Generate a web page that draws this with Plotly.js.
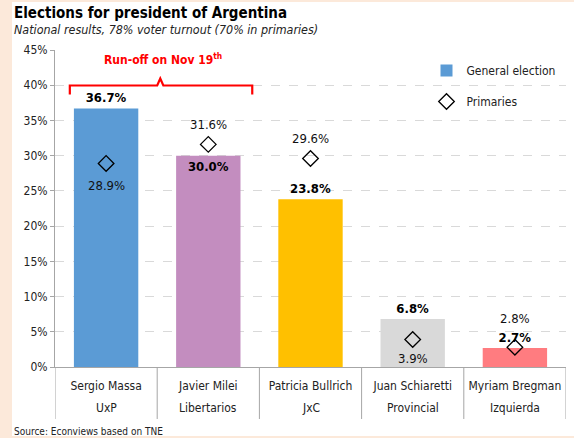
<!DOCTYPE html>
<html><head><meta charset="utf-8">
<script src="https://cdn.plot.ly/plotly-3.0.1.min.js"></script>
<style>
html,body{margin:0;padding:0;background:#FCE9DA;width:574px;height:438px;overflow:hidden;}
#chart{position:absolute;left:12px;top:2px;width:562px;height:434px;background:#fff;}
</style></head>
<body><div id="chart"></div>
<script>
const candidates = ["Sergio Massa","Javier Milei","Patricia Bullrich","Juan Schiaretti","Myriam Bregman"];
const parties = ["UxP","Libertarios","JxC","Provincial","Izquierda"];
const generalElection = [36.7, 30.0, 23.8, 6.8, 2.7];
const primaries = [28.9, 31.6, 29.6, 3.9, 2.8];
const barColors = ["#5B9BD5","#C38DBF","#FFC000","#D9D9D9","#FF7C80"];
const barTextPos = ["outside","inside","outside","outside","outside"];
const primLabelShift = [-22, 20, 20, -19, 29];

const FONT = "'DejaVu Sans Condensed', 'DejaVu Sans', sans-serif";

const traces = [
  {type:"bar", name:"General election", x:candidates, y:generalElection,
   marker:{color:barColors}, width:0.63,
   text:generalElection.map(v=>v.toFixed(1)+"%"), textposition:barTextPos,
   insidetextanchor:"end", cliponaxis:false,
   textfont:{family:FONT, size:13, color:"#000", weight:"bold"},
   legendgroup:"a", hoverinfo:"skip"},
  {type:"scatter", mode:"markers", name:"Primaries", x:candidates, y:primaries,
   marker:{symbol:"diamond-open", size:12, color:"#000", line:{width:1.3,color:"#000"}},
   cliponaxis:false, legendgroup:"b", hoverinfo:"skip"}
];

const primAnnots = primaries.map((v,i)=>({
  text:v.toFixed(1)+"%", x:candidates[i], y:v, xref:"x", yref:"y", showarrow:false,
  yshift:primLabelShift[i], font:{family:FONT, size:13, color:"#111"}
}));
const partyAnnots = parties.map((p,i)=>({
  text:p, x:candidates[i], y:-0.129, xref:"x", yref:"paper", showarrow:false,
  xanchor:"center", yanchor:"middle", font:{family:FONT, size:12, color:"#222"}
}));
const dividers = [];
for (let i=0;i<=candidates.length;i++){
  dividers.push({type:"line", xref:"x", yref:"paper", x0:i-0.5, x1:i-0.5, y0:0, y1:-0.164,
                 line:{color:"#A6A6A6", width:1}});
}

const layout = {
  width:562, height:434,
  margin:{l:43, r:8, t:48, b:69, autoexpand:false},
  paper_bgcolor:"#fff", plot_bgcolor:"#fff",
  font:{family:FONT, size:12, color:"#222"},
  showlegend:true,
  legend:{x:0.727, y:0.981, xanchor:"left", yanchor:"top", bgcolor:"rgba(0,0,0,0)",
          font:{family:FONT, size:12, color:"#222"}, itemwidth:30, tracegroupgap:12},
  xaxis:{type:"category", showline:true, linecolor:"#A6A6A6", linewidth:1, tickangle:0,
         range:[-0.5, candidates.length-0.5], ticklabelstandoff:8,
         tickfont:{family:FONT, size:12, color:"#222"}, ticks:"", fixedrange:true},
  yaxis:{range:[0,45], dtick:5, ticksuffix:"%", showline:true, linecolor:"#A6A6A6",
         ticks:"outside", ticklen:4, tickcolor:"#A6A6A6",
         gridcolor:"#D9D9D9", griddash:"dash", zeroline:false,
         tickfont:{family:FONT, size:12, color:"#222"}, fixedrange:true},
  annotations:[
    {text:"<b>Elections for president of Argentina</b>", xref:"paper", yref:"paper",
     x:-0.084, y:1.118, xanchor:"left", yanchor:"middle", showarrow:false,
     font:{family:FONT, size:15, color:"#000"}},
    {text:"<i>National results, 78% voter turnout (70% in primaries)</i>", xref:"paper", yref:"paper",
     x:-0.084, y:1.066, xanchor:"left", yanchor:"middle", showarrow:false,
     font:{family:FONT, size:12.4, color:"#222"}},
    {text:"<b>Run-off on Nov 19<sup>th</sup></b>", xref:"paper", yref:"paper",
     x:0.212, y:0.972, xanchor:"center", yanchor:"middle", showarrow:false,
     font:{family:FONT, size:12, color:"#FF0000"}},
    {text:"Source: Econviews based on TNE", xref:"paper", yref:"paper",
     x:-0.084, y:-0.202, xanchor:"left", yanchor:"middle", showarrow:false,
     font:{family:FONT, size:10, color:"#222"}}
  ].concat(primAnnots, partyAnnots),
  shapes:[
    {type:"path", xref:"paper", yref:"paper",
     path:"M 0.029 0.86 L 0.029 0.888 L 0.2 0.888 L 0.206 0.91 L 0.212 0.888 L 0.386 0.888 L 0.386 0.86",
     line:{color:"#FF0000", width:2.2}}
  ].concat(dividers)
};
Plotly.newPlot("chart", traces, layout, {displayModeBar:false, staticPlot:true});
</script>
</body></html>
